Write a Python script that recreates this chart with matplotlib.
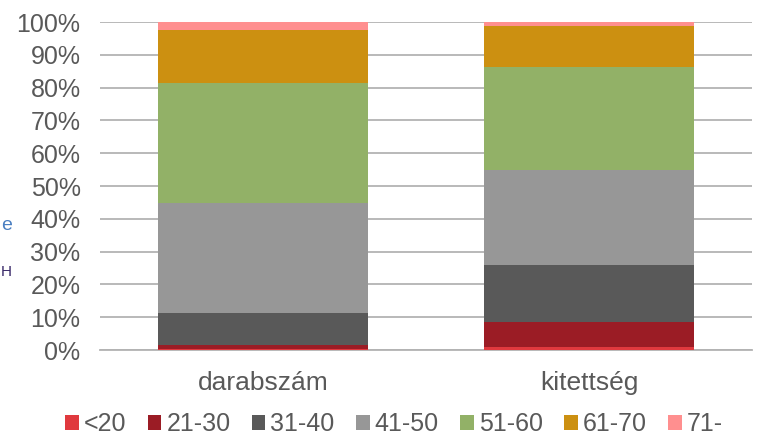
import numpy as np
import matplotlib.pyplot as plt
from matplotlib.ticker import PercentFormatter

plt.rcParams['font.family'] = ['Liberation Sans', 'DejaVu Sans']

categories = ["darabszám", "kitettség"]
groups = ["<20", "21-30", "31-40", "41-50", "51-60", "61-70", "71-"]
# share in percent, per group, for [darabszám, kitettség]
lt20 = [0.2, 0.8]
g21_30 = [1.3, 7.7]
g31_40 = [9.7, 17.4]
g41_50 = [33.5, 29.0]
g51_60 = [36.8, 31.5]
g61_70 = [16.0, 12.3]
g71 = [2.5, 1.3]
series = [lt20, g21_30, g31_40, g41_50, g51_60, g61_70, g71]
colors = ["#e0393e", "#9b1c25", "#595959", "#979797", "#92b167", "#cc9011", "#ff8f8f"]

fig = plt.figure(figsize=(7.59, 4.37), dpi=100)
ax = fig.add_axes([100 / 759, 1 - 350 / 437, 652 / 759, 328 / 437])

x = np.arange(len(categories))
bottom = np.zeros(len(categories))
for vals, col, lab in zip(series, colors, groups):
    ax.bar(x, vals, 0.646, bottom=bottom, color=col, label=lab, zorder=3)
    bottom += np.array(vals)

ax.set_xlim(-0.5, 1.5)
ax.set_ylim(0, 100)
ax.set_yticks(np.arange(0, 101, 10))
ax.yaxis.set_major_formatter(PercentFormatter(decimals=0))
ax.grid(axis="y", color="#b3b3b3", linewidth=1.3, zorder=0)
for s in ["top", "right", "left"]:
    ax.spines[s].set_visible(False)
ax.spines["bottom"].set_color("#b3b3b3")
ax.spines["bottom"].set_linewidth(1.3)
ax.tick_params(axis="y", length=0, labelsize=18, colors="#595959", pad=14)
ax.tick_params(axis="x", length=0, labelsize=19, colors="#595959", pad=15)
ax.set_xticks(x)
ax.set_xticklabels(categories)

ax.legend(loc="center", bbox_to_anchor=(394 / 759, 1 - 424 / 437), bbox_transform=fig.transFigure,
          ncol=7, frameon=False, fontsize=18, handlelength=0.55, handleheight=0.55,
          handletextpad=0.2, columnspacing=0.85, labelcolor="#595959",
          borderpad=0, borderaxespad=0)

# stray text at the left edge of the original picture
fig.text(0.001, 1 - 226 / 437, "e", color="#4a7fc1", fontsize=14, va="center")
fig.text(0.001, 1 - 272 / 437, "H", color="#3a2a6a", fontsize=11, va="center")

fig.savefig("out.png", dpi=100)
